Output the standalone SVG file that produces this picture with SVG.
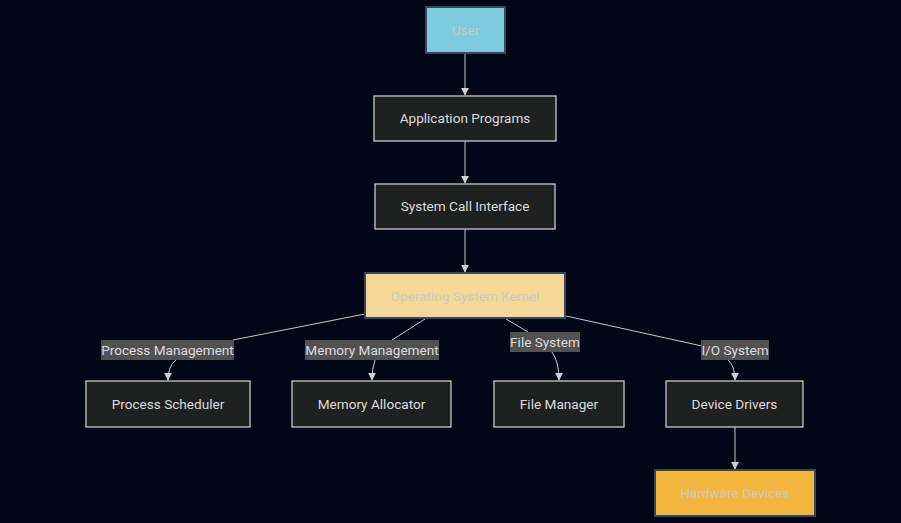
<svg xmlns="http://www.w3.org/2000/svg" width="901" height="523" viewBox="0 0 901 523">
<style>
.node rect{stroke-width:1.3}
.dark rect{fill:#1f2020;stroke:#c8c8c8}
.col rect{stroke:#34495e;stroke-width:2}
text{font-family:Roboto,"Liberation Sans",sans-serif;font-size:13.6px;text-anchor:middle;dominant-baseline:central}
.dark text{fill:#dcdcdc}
.col text{fill:#c9c9c9}
.edge{fill:none;stroke:#c8c8c8;stroke-width:1}
.lbl rect{fill:#555555;opacity:0.95}
.lbl text{fill:#dcdcdc}
</style>
<defs>
<marker id="arr" viewBox="0 0 10 10" refX="9" refY="5" markerWidth="8" markerHeight="8" markerUnits="userSpaceOnUse" orient="auto">
<path d="M0,0 L10,5 L0,10 z" fill="#d0d0d0"/>
</marker>
</defs>
<rect width="901" height="523" fill="#020617"/>
<g id="connectors">
<path class="edge" d="M465,53 V95" marker-end="url(#arr)"/>
<path class="edge" d="M465,141 V183" marker-end="url(#arr)"/>
<path class="edge" d="M465,229 V272" marker-end="url(#arr)"/>
<path class="edge" d="M365,314 L233,340"/>
<path class="edge" d="M176,360 Q168,366 168,380" marker-end="url(#arr)"/>
<path class="edge" d="M425,319 L392,340"/>
<path class="edge" d="M375,360 Q372,368 372,380" marker-end="url(#arr)"/>
<path class="edge" d="M506,319 L528,332"/>
<path class="edge" d="M552,352 Q559,362 559,380" marker-end="url(#arr)"/>
<path class="edge" d="M566,316 L702,346"/>
<path class="edge" d="M728,360 Q735,366 735,380" marker-end="url(#arr)"/>
<path class="edge" d="M735,427 V469" marker-end="url(#arr)"/>
</g>
<g id="edge-labels">
<g class="lbl"><rect x="101" y="340" width="133" height="20"/><text x="167.5" y="349.5">Process Management</text></g>
<g class="lbl"><rect x="305" y="340" width="134" height="20"/><text x="372" y="349.5">Memory Management</text></g>
<g class="lbl"><rect x="510" y="332" width="70" height="20"/><text x="545" y="341.5">File System</text></g>
<g class="lbl"><rect x="701" y="340" width="68" height="20"/><text x="735" y="349.5">I/O System</text></g>
</g>
<g id="user" class="node col"><rect x="426" y="7" width="79" height="46" fill="#7ecbdd"/><text x="465.5" y="29.5">User</text></g>
<g id="apps" class="node dark"><rect x="374" y="96" width="182" height="45"/><text x="465" y="118">Application Programs</text></g>
<g id="syscall" class="node dark"><rect x="375" y="184" width="180" height="45"/><text x="465" y="206">System Call Interface</text></g>
<g id="kernel" class="node col"><rect x="365" y="273" width="200" height="45" fill="#f5d796"/><text x="465" y="295.5">Operating System Kernel</text></g>
<g id="sched" class="node dark"><rect x="86" y="381" width="164" height="46"/><text x="168" y="404">Process Scheduler</text></g>
<g id="mem" class="node dark"><rect x="292" y="381" width="159" height="46"/><text x="371.5" y="404">Memory Allocator</text></g>
<g id="file" class="node dark"><rect x="494" y="381" width="130" height="46"/><text x="559" y="404">File Manager</text></g>
<g id="drivers" class="node dark"><rect x="666" y="381" width="137" height="46"/><text x="734.5" y="404">Device Drivers</text></g>
<g id="hw" class="node col"><rect x="655" y="470" width="160" height="46" fill="#f4b73e"/><text x="735" y="492.5">Hardware Devices</text></g>
</svg>
